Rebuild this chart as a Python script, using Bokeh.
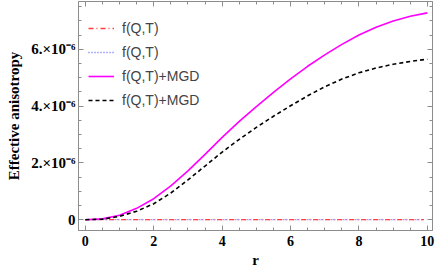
from bokeh.plotting import figure
from bokeh.models import (Range1d, LinearAxis, FixedTicker, CustomJSTickFormatter,
                          Legend, LegendItem)
from bokeh.embed import file_html
from bokeh.resources import INLINE

# Data (effective anisotropy vs r)
r = [0, 0.5, 1, 1.5, 2, 2.5, 3, 3.5, 4, 4.5, 5, 5.5, 6, 6.5, 7, 7.5, 8, 8.5, 9, 9.5, 10]
r_flat = [0, 0.5, 1, 1.5, 2, 2.5, 3, 3.5, 4, 4.5, 5, 5.5, 6, 6.5, 7, 7.5, 8, 8.5, 9, 9.5, 9.9]
fqt_red = [0.0] * 21
fqt_blue = [0.0] * 21
mgd_magenta = [v * 1e-6 for v in
               [0, 0.03, 0.16, 0.40, 0.74, 1.19, 1.72, 2.30, 2.90, 3.46, 3.98,
                4.48, 4.96, 5.40, 5.80, 6.17, 6.50, 6.77, 6.99, 7.16, 7.28]]
mgd_black = [v * 1e-6 for v in
             [0, 0.02, 0.12, 0.30, 0.56, 0.94, 1.40, 1.89, 2.38, 2.83, 3.25,
              3.64, 4.01, 4.36, 4.68, 4.95, 5.17, 5.34, 5.47, 5.57, 5.65]]
labels = ["f(Q,T)", "f(Q,T)", "f(Q,T)+MGD", "f(Q,T)+MGD"]
x_ticks = [0, 2, 4, 6, 8, 10]
x_minor = [i * 0.5 for i in range(0, 21)]
y_ticks = [0, 2e-6, 4e-6, 6e-6]
y_minor = [i * 0.5e-6 for i in range(-1, 16)]

GRAY = "#8c8c8c"
SERIF = "Liberation Serif"

p = figure(width=436, height=273, output_backend="svg", toolbar_location=None,
           x_range=Range1d(-0.2, 10.15), y_range=Range1d(-0.38e-6, 7.68e-6),
           min_border_left=78, min_border_right=4, min_border_top=1, min_border_bottom=43)
p.grid.visible = False
p.outline_line_color = GRAY
p.background_fill_color = "white"
p.border_fill_color = "white"

r_blue = p.line(r_flat, fqt_blue, line_color="#6666ff", line_width=1.3, line_dash="1 2")
r_red = p.line(r_flat, fqt_red, line_color="#ff4040", line_width=1.3, line_dash="5 3 1 3")
r_mag = p.line(r, mgd_magenta, line_color="magenta", line_width=1.6)
r_blk = p.line(r, mgd_black, line_color="black", line_width=1.6, line_dash="4 3")

yfmt = CustomJSTickFormatter(code="""
if (Math.abs(tick) < 1e-12) { return '0'; }
return (tick*1e6).toFixed(0) + '.\u00d710\u207b\u2076';
""")
empty_fmt = CustomJSTickFormatter(code="return '';")

def style_axis(ax):
    ax.axis_line_color = GRAY
    ax.major_tick_line_color = GRAY
    ax.minor_tick_line_color = GRAY
    ax.major_tick_in = 5
    ax.major_tick_out = 0
    ax.minor_tick_in = 3
    ax.minor_tick_out = 0
    ax.major_label_text_font = SERIF
    ax.major_label_text_font_style = "bold"
    ax.major_label_text_font_size = "14px"
    ax.major_label_text_color = "black"
    ax.axis_label_text_font = SERIF
    ax.axis_label_text_font_style = "bold"
    ax.axis_label_text_font_size = "15px"
    ax.axis_label_text_color = "black"

xb = p.xaxis[0]
xb.ticker = FixedTicker(ticks=x_ticks, minor_ticks=x_minor)
xb.axis_label = "r"
xb.major_label_standoff = 5
xb.axis_label_standoff = 3
style_axis(xb)

yl = p.yaxis[0]
yl.ticker = FixedTicker(ticks=y_ticks, minor_ticks=y_minor)
yl.formatter = yfmt
yl.axis_label = "Effective anisotropy"
yl.major_label_standoff = 3
yl.axis_label_standoff = 6
style_axis(yl)
yl.major_label_text_font_size = "15px"

xt = LinearAxis(ticker=FixedTicker(ticks=x_ticks, minor_ticks=x_minor),
                formatter=empty_fmt, major_label_standoff=0)
style_axis(xt)
p.add_layout(xt, "above")
yr = LinearAxis(ticker=FixedTicker(ticks=y_ticks, minor_ticks=y_minor),
                formatter=empty_fmt, major_label_standoff=0)
style_axis(yr)
p.add_layout(yr, "right")

legend = Legend(items=[LegendItem(label=labels[0], renderers=[r_red]),
                       LegendItem(label=labels[1], renderers=[r_blue]),
                       LegendItem(label=labels[2], renderers=[r_mag]),
                       LegendItem(label=labels[3], renderers=[r_blk])],
                location=(10, 120), margin=0, padding=2, spacing=4,
                glyph_width=26, glyph_height=20, label_standoff=8,
                label_text_font="Liberation Sans", label_text_font_size="14px",
                border_line_color=None, background_fill_alpha=0)
p.add_layout(legend, "center")

open("out.html", "w").write(file_html(p, INLINE))
